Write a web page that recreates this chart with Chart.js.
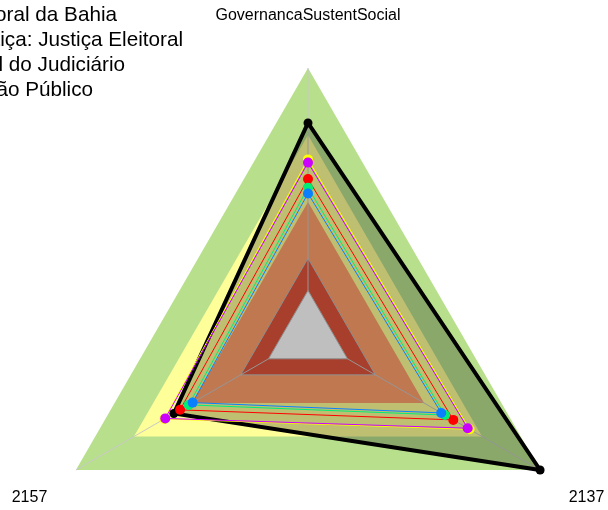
<!DOCTYPE html>
<html>
<head>
<meta charset="utf-8">
<script src="https://cdn.jsdelivr.net/npm/chart.js@4.4.1/dist/chart.umd.min.js"></script>
<style>
  html, body { margin: 0; padding: 0; overflow: hidden; background: #fff; }
  #wrap { position: relative; width: 608px; height: 510px; overflow: hidden; }
  canvas { display: block; }
</style>
</head>
<body>
<div id="wrap"><canvas id="chart" width="608" height="672"></canvas></div>
<script>
// axes, clockwise from the top
const axisLabels = ['GovernancaSustentSocial', '2137', '2157'];

// background bands (outer limit of each band)
const bandLimits = [100, 75, 50, 29, 17];
const bandColors = ['#B8E08C', '#FFFF99', '#FFA06B', '#E0553C', '#FFFFFF'];

const legendLines = [
  'Tribunal Regional Eleitoral da Bahia',
  'Ramo de Justiça: Justiça Eleitoral',
  'Média Geral do Judiciário',
  'Média do Órgão Público',
];

const seriesNames = ['TRE-BA', 'Série amarela', 'Série roxa', 'Série vermelha', 'Série verde', 'Série azul'];
const seriesColors = ['#000000', '#FFFF00', '#CC00FF', '#FF0000', '#00EE76', '#0A80FF'];
const blackValues  = [79.5, 100, 57.8];
const yellowValues = [65.9, 69.6, 61.9];
const purpleValues = [64.7, 68.8, 61.5];
const redValues    = [58.6, 62.6, 55.1];
const greenValues  = [55.3, 59.0, 51.4];
const blueValues   = [53.2, 57.4, 49.7];
const seriesValues = [blackValues, yellowValues, purpleValues, redValues, greenValues, blueValues];
const seriesOrder  = [30, 25, 24, 23, 22, 21];

const bandSets = bandLimits.map((v, i) => ({
  label: 'faixa ' + i,
  data: axisLabels.map(() => v),
  backgroundColor: bandColors[i],
  borderColor: i >= 3 ? '#BEBEBE' : bandColors[i],
  borderWidth: i >= 3 ? 1 : 0,
  pointRadius: 0,
  fill: 'origin',
  order: 100 - i,
  spokesAfter: i === 3,
}));

const seriesSets = seriesValues.map((vals, i) => ({
  label: seriesNames[i],
  data: vals,
  borderColor: seriesColors[i],
  backgroundColor: i === 0 ? 'rgba(0,0,0,0.25)' : seriesColors[i],
  pointBackgroundColor: seriesColors[i],
  pointBorderWidth: 0,
  pointRadius: i === 0 ? 4.5 : 5,
  borderWidth: i === 0 ? 4 : 1,
  fill: i === 0 ? 'origin' : false,
  order: seriesOrder[i],
}));

// radial lines, drawn over the outer bands but under the centre one
const spokes = {
  id: 'spokes',
  afterDatasetDraw(chart, args) {
    if (!chart.data.datasets[args.index].spokesAfter) return;
    const r = chart.scales.r;
    const ctx = chart.ctx;
    ctx.save();
    ctx.strokeStyle = '#C8C8C8';
    ctx.lineWidth = 1;
    axisLabels.forEach((_, i) => {
      const p = r.getPointPosition(i, r.drawingArea);
      ctx.beginPath();
      ctx.moveTo(r.xCenter, r.yCenter);
      ctx.lineTo(p.x, p.y);
      ctx.stroke();
    });
    ctx.restore();
  },
};

const texts = {
  id: 'texts',
  afterDraw(chart) {
    const r = chart.scales.r;
    const ctx = chart.ctx;
    ctx.save();
    ctx.fillStyle = '#000';
    ctx.font = '16px "Liberation Sans", Arial, sans-serif';
    ctx.textAlign = 'center';
    ctx.textBaseline = 'middle';
    axisLabels.forEach((lab, i) => {
      const p = r.getPointPosition(i, r.drawingArea * 1.2);
      ctx.fillText(lab, p.x, p.y + 1);
    });
    ctx.font = '20.7px "Liberation Sans", Arial, sans-serif';
    ctx.textAlign = 'right';
    ctx.textBaseline = 'alphabetic';
    const ends = [117, 183, 125, 93];
    legendLines.forEach((t, i) => ctx.fillText(t, ends[i], 21 + 25 * i));
    ctx.restore();
  },
};

new Chart(document.getElementById('chart'), {
  type: 'radar',
  data: { labels: axisLabels, datasets: bandSets.concat(seriesSets) },
  options: {
    responsive: false,
    animation: false,
    layout: { padding: { left: 40, right: 32, top: 68, bottom: 68 } },
    elements: { line: { tension: 0 } },
    plugins: { legend: { display: false }, tooltip: { enabled: false } },
    scales: {
      r: {
        min: 0,
        max: 100,
        ticks: { display: false },
        grid: { display: false },
        angleLines: { display: false },
        pointLabels: { display: false },
      },
    },
  },
  plugins: [spokes, texts],
});
</script>
</body>
</html>
